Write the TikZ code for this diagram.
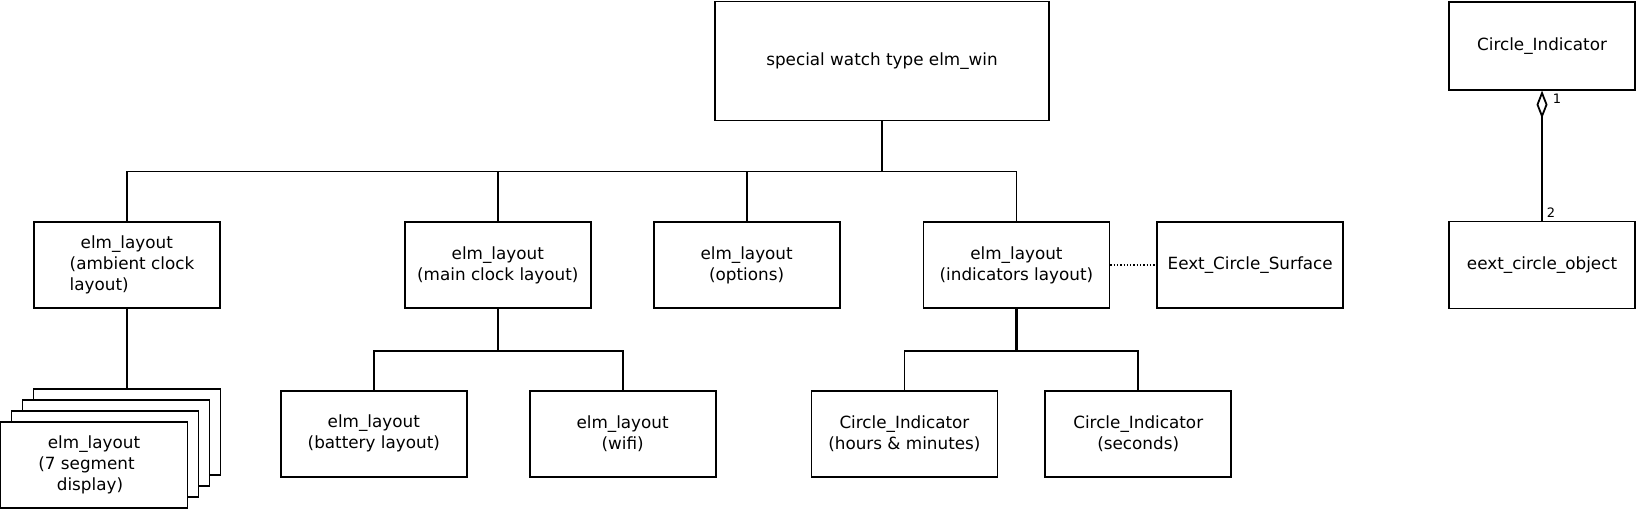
\documentclass[tikz,border=0pt]{standalone}
\usepackage{fontspec}
\setmainfont{DejaVu Sans}
\usetikzlibrary{arrows.meta,positioning}

\begin{document}
\begin{tikzpicture}[x=1pt,y=-1pt,line width=1.8pt,
    box/.style={draw,line width=1.8pt,fill=white,minimum width=186pt,minimum height=86pt,
                align=center,inner sep=2pt,font=\fontsize{16.8}{21}\selectfont},
    wide line/.style={line width=2.6pt},
    mult/.style={font=\fontsize{13}{15}\selectfont,inner sep=1pt}]

  \useasboundingbox (0,0) rectangle (1637,509);

  % top level
  \node[box,minimum width=334pt,minimum height=119pt] (win) at (882,61) {special watch type elm\_win};

  % first row
  \node[box,align=left] (amb) at (127,265) {\hspace*{21pt}elm\_layout\\\hspace*{10pt}(ambient clock\\\hspace*{10pt}layout)};
  \node[box] (main) [right=183pt of amb] {elm\_layout\\(main clock layout)};
  \node[box] (opt) [right=61pt of main] {elm\_layout\\(options)};
  \node[box] (ind) [right=82pt of opt] {elm\_layout\\(indicators layout)};
  \node[box] (surf) [right=46pt of ind] {Eext\_Circle\_Surface};
  \node[box,minimum height=87pt] (eext) [right=104pt of surf] {eext\_circle\_object};
  \node[box,minimum height=88pt] (circ) [above=130pt of eext] {Circle\_Indicator};

  % second row
  \node[box] (bat) [below=81pt of main, xshift=-124pt] {elm\_layout\\(battery layout)};
  \node[box] (wifi) [right=61pt of bat] {elm\_layout\\(wifi)};
  \node[box] (hrs) [below=81pt of ind, xshift=-112pt] {Circle\_Indicator\\(hours \& minutes)};
  \node[box] (sec) [right=46pt of hrs] {Circle\_Indicator\\(seconds)};

  % stacked 7 segment layouts
  \node[box,minimum width=187pt] (s3) at (127,432) {};
  \node[box,minimum width=187pt] (s2) at (116,443) {};
  \node[box,minimum width=187pt] (s1) at (105,454) {};
  \node[box,minimum width=187pt] (seg) at (94,465) {elm\_layout\\(7 segment\hspace{15pt}\mbox{}\\display)\hspace{8pt}\mbox{}};

  % tree lines
  \draw[wide line] (win.south) -- ++(0,50) coordinate (tbus);
  \draw (amb.north) |- (tbus) -| (ind.north);
  \draw (main.north) -- (main.north |- tbus);
  \draw (opt.north) -- (opt.north |- tbus);
  \draw (amb.south) -- (s3.north);

  \draw[wide line] (main.south) -- ++(0,42) coordinate (mbus);
  \draw (bat.north) |- (mbus) -| (wifi.north);
  \draw[wide line] (ind.south) -- ++(0,42) coordinate (ibus);
  \draw (hrs.north) |- (ibus) -| (sec.north);

  \draw[dotted,line width=1.3pt] (ind.east) -- (surf.west);

  % aggregation
  \draw[-{Diamond[open,length=28pt,width=11pt]}] (eext.north) -- (circ.south);
  \node[mult] (one) at ([shift={(15pt,-8pt)}]circ.south) {1};
  \node[mult] (two) at ([shift={(9pt,8pt)}]eext.north) {2};
\end{tikzpicture}
\end{document}
